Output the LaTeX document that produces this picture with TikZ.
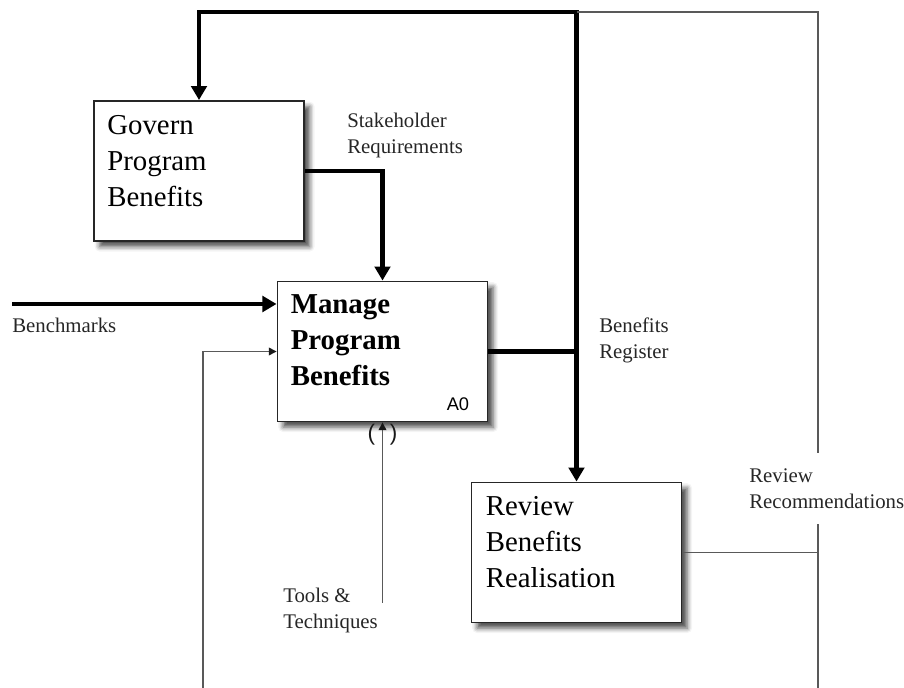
\documentclass[tikz,border=0pt]{standalone}
\usepackage{fontspec}
\setmainfont{Liberation Serif}
\setsansfont{Liberation Sans}
\usepackage{tikz}
\usetikzlibrary{arrows.meta}
\usetikzlibrary{calc}
\usetikzlibrary{math}
\usetikzlibrary{positioning}
\usetikzlibrary{shadows.blur}
\tikzset{
	activity/.style={
		draw=black!85, line width=1.3pt, fill=white,
		minimum width=5.25cm, minimum height=3.5cm, inner sep=0pt,
		blur shadow={shadow xshift=4pt, shadow yshift=-4pt, shadow blur radius=3.5pt, shadow opacity=70},
	},
	boxtext/.style={anchor=north west, align=left, inner sep=0pt, font=\fontsize{20.5}{25.6}\selectfont},
	flowlabel/.style={anchor=north west, align=left, inner sep=0pt, text=black!85, font=\fontsize{14.8}{18.5}\selectfont},
	bigflow/.style={line width=3.5pt, line join=miter},
	bighead/.style={-{Triangle[length=10pt,width=11pt]}},
	smallflow/.style={line width=0.9pt, draw=black!65},
	smallhead/.style={-{Triangle[length=5.5pt,width=5.5pt,color=black!90]}},
}

\begin{document}
\begin{tikzpicture}[x=0.025cm, y=-0.025cm]
	\useasboundingbox (0,0) rectangle (904,688);
	\clip (0,0) rectangle (904,688);

	\node[activity] (gov) at (199,171) {};
	\node[activity] (man) at (382.5,351.5) {};
	\node[activity] (rev) at (576.5,552.5) {};
	\node[boxtext] (govtext) at ([shift={(14,15)}]gov.north west) {Govern\\Program\\Benefits};
	\node[boxtext,font=\fontsize{20.5}{25.6}\selectfont\bfseries] (mantext) at ([shift={(14,14)}]man.north west) {Manage\\Program\\Benefits};
	\node[boxtext] (revtext) at ([shift={(15,15)}]rev.north west) {Review\\Benefits\\Realisation};
	\node[anchor=base east, inner sep=0pt, font=\sffamily\fontsize{13}{15}\selectfont] (nodeid) at ([shift={(-19,-12)}]man.south east) {A0};

	\coordinate (topr) at (rev.north |- 0,12);
	\coordinate (rt) at (818,12);
	\coordinate (rr) at (rev.east -| rt);
	\coordinate (bot) at (818,700);
	\coordinate (botl) at (203,700);
	\coordinate (bm) at (12,304);
	\coordinate (tl) at (man.south |- 0,603);

	% labels
	\node[flowlabel] (stake) at (347,113) {Stakeholder\\Requirements};
	\node[flowlabel] (reg) at (599,318) {Benefits\\Register};
	\node[flowlabel, inner ysep=11] (recs) at (749,453) {Review\\Recommendations};
	\node[flowlabel] (tools) at (283,588) {Tools \&\\Techniques};
	\node[flowlabel, anchor=base west] (bench) at (12,333) {Benchmarks};
	\node[inner sep=0pt, text=black!90, font=\sffamily\fontsize{16}{18}\selectfont] (tunnel) at (382.5,435) {(\hspace{10.5pt})};

	\draw[bigflow,bighead] (gov.east) -| (man.north);
	\draw[bigflow,bighead] (bm) -- (bm -| man.west);
	\draw[bigflow,bighead] (man.east) -| (topr) -| (gov.north);
	\draw[bigflow,bighead] (topr) -- (rev.north);

	\draw[smallflow] (topr) -- (rt) -- (recs.north -| rt);
	\draw[smallflow] (recs.south -| rt) -- (rr);
	\draw[smallflow,smallhead] (rev.east) -| (bot) -- (botl) |- (man.west);
	\draw[smallflow,smallhead] (tl) -- (man.south);
\end{tikzpicture}
\end{document}
